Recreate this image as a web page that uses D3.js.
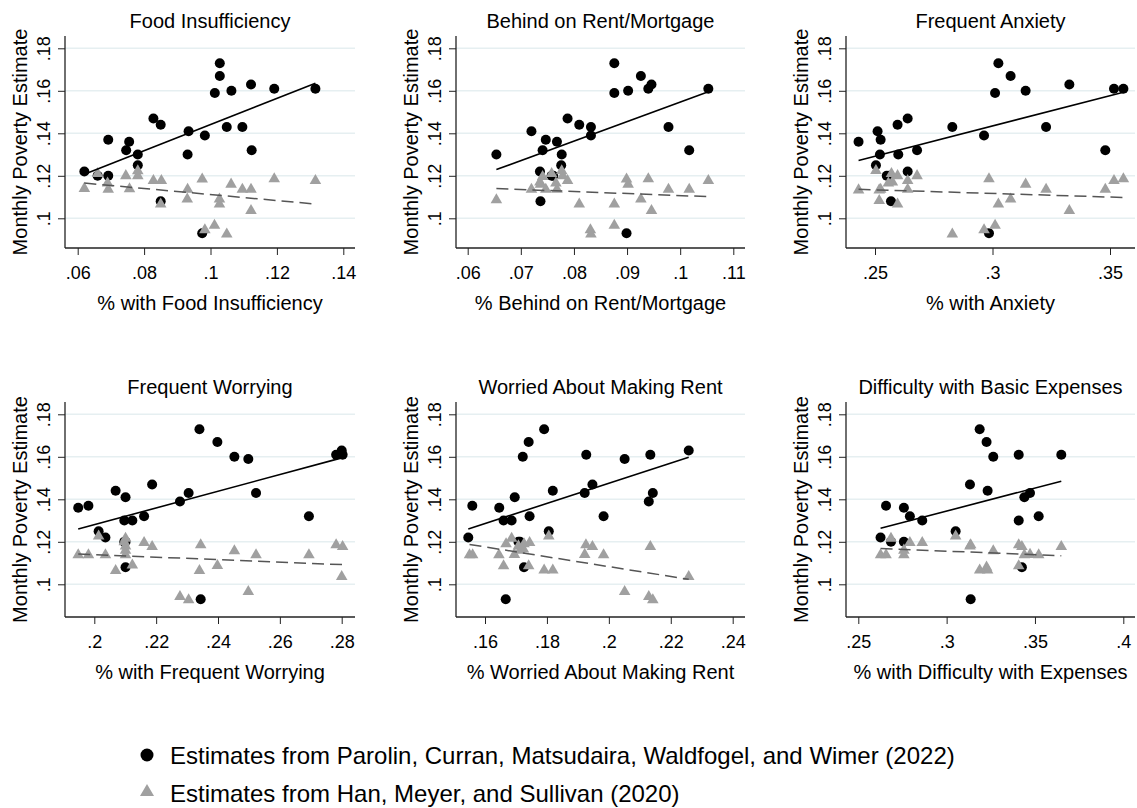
<!DOCTYPE html>
<html><head><meta charset="utf-8">
<script src="https://cdn.jsdelivr.net/npm/d3@7"></script>
<style>
html,body{margin:0;padding:0;background:#fff;}
svg text{font-family:"Liberation Sans",Arial,sans-serif;fill:#000;}
</style></head>
<body>
<svg id="chart" width="1137" height="808"></svg>
<script>
// ---------- DATA ----------
const yTicks = [0.10, 0.12, 0.14, 0.16, 0.18];
const titles = ["Food Insufficiency","Behind on Rent/Mortgage","Frequent Anxiety","Frequent Worrying","Worried About Making Rent","Difficulty with Basic Expenses"];
const xLabels = ["% with Food Insufficiency","% Behind on Rent/Mortgage","% with Anxiety","% with Frequent Worrying","% Worried About Making Rent","% with Difficulty with Expenses"];
const xTicks = [[0.06,0.08,0.10,0.12,0.14],[0.06,0.07,0.08,0.09,0.10,0.11],[0.25,0.30,0.35],[0.20,0.22,0.24,0.26,0.28],[0.16,0.18,0.20,0.22,0.24],[0.25,0.30,0.35,0.40]];
const legendLabels = ["Estimates from Parolin, Curran, Matsudaira, Waldfogel, and Wimer (2022)","Estimates from Han, Meyer, and Sullivan (2020)"];

const foodParolin = [[.062,.122],[.066,.120],[.0692,.137],[.0692,.120],[.0746,.132],[.0755,.136],[.0781,.130],[.0781,.125],[.0828,.147],[.085,.144],[.085,.108],[.0931,.130],[.0934,.141],[.0983,.139],[.0975,.093],[.1013,.159],[.1028,.173],[.1028,.167],[.1049,.143],[.1063,.160],[.1096,.143],[.1122,.163],[.1124,.132],[.1192,.161],[.1316,.161]];
const foodHan = [[.062,.114],[.066,.121],[.069,.1165],[.0692,.1136],[.0745,.120],[.0756,.1138],[.0781,.1223],[.0781,.120],[.0828,.1177],[.0852,.1177],[.085,.1067],[.0931,.1136],[.093,.109],[.0975,.1184],[.0983,.0945],[.1012,.0966],[.1027,.109],[.1027,.1067],[.1049,.0925],[.1062,.116],[.1096,.1136],[.1122,.1136],[.1122,.1036],[.1192,.1185],[.1316,.1177]];

const rentParolin = [[.0654,.130],[.072,.141],[.0741,.132],[.0736,.122],[.0737,.108],[.0747,.137],[.0758,.120],[.0761,.120],[.0768,.136],[.0777,.130],[.0776,.125],[.0788,.147],[.081,.144],[.0832,.143],[.0832,.139],[.0876,.173],[.0876,.159],[.0902,.160],[.0899,.093],[.0926,.167],[.094,.161],[.0946,.163],[.0978,.143],[.1017,.132],[.1053,.161]];
const rentHan = [[.0654,.1086],[.072,.1136],[.0736,.117],[.0737,.116],[.0741,.1196],[.0747,.1136],[.0758,.121],[.0766,.1165],[.0768,.1136],[.0777,.1223],[.0779,.120],[.0788,.1177],[.081,.1067],[.0831,.0945],[.0832,.0925],[.0876,.1067],[.0876,.0966],[.0899,.1184],[.0902,.116],[.0926,.109],[.094,.1185],[.0946,.1036],[.0978,.1136],[.1017,.1136],[.1053,.1177]];

const anxParolin = [[.243,.136],[.2511,.141],[.2504,.125],[.2524,.137],[.2521,.130],[.255,.120],[.2561,.120],[.2568,.108],[.2596,.144],[.2599,.130],[.2639,.147],[.2639,.122],[.2679,.132],[.2829,.143],[.2964,.139],[.2985,.093],[.3011,.159],[.3025,.173],[.3077,.167],[.3141,.160],[.3228,.143],[.3327,.163],[.348,.132],[.3517,.161],[.3557,.161]];
const anxHan = [[.243,.1133],[.2504,.1224],[.2518,.1133],[.2518,.1083],[.2524,.1136],[.2557,.1165],[.257,.121],[.2574,.117],[.2596,.120],[.2596,.1067],[.2639,.1177],[.2639,.1136],[.2679,.120],[.2829,.0925],[.2964,.0945],[.2985,.1185],[.3011,.0966],[.3025,.1067],[.3077,.109],[.3141,.116],[.3228,.1136],[.3327,.1036],[.348,.1136],[.3517,.1177],[.3557,.1185]];

const worryParolin = [[.1948,.136],[.1981,.137],[.2014,.125],[.2036,.122],[.2069,.144],[.2101,.141],[.2097,.130],[.2123,.130],[.2097,.120],[.2101,.120],[.2101,.108],[.2161,.132],[.2187,.147],[.2277,.139],[.2305,.143],[.234,.173],[.2344,.093],[.2398,.167],[.2453,.160],[.2498,.159],[.2523,.143],[.2694,.132],[.2782,.161],[.28,.163],[.2803,.161]];
const worryHan = [[.1948,.1138],[.1981,.1138],[.2014,.1227],[.2036,.1138],[.2069,.1064],[.2101,.1216],[.2101,.118],[.2101,.116],[.2101,.1138],[.2097,.120],[.2123,.109],[.2161,.1196],[.2187,.1177],[.2277,.0942],[.2305,.0926],[.2344,.1185],[.234,.1064],[.2398,.1088],[.2453,.1157],[.2498,.0965],[.2523,.1138],[.2694,.1138],[.2782,.1185],[.2803,.1177],[.28,.1036]];

const makeRentParolin = [[.1546,.122],[.1559,.137],[.1646,.136],[.166,.130],[.1686,.130],[.1696,.141],[.1667,.093],[.1708,.120],[.1713,.120],[.1722,.160],[.1726,.108],[.1741,.167],[.1744,.132],[.1791,.173],[.1806,.125],[.1819,.144],[.1922,.143],[.1927,.161],[.1947,.147],[.1983,.132],[.2051,.159],[.2129,.139],[.2134,.161],[.2142,.143],[.2258,.163]];
const makeRentHan = [[.155,.1138],[.156,.1138],[.1645,.1138],[.166,.1086],[.1668,.119],[.1686,.1216],[.1695,.114],[.1708,.118],[.1713,.116],[.1724,.1165],[.1726,.119],[.1744,.1196],[.1741,.1086],[.1791,.1067],[.1806,.1227],[.1819,.1067],[.1922,.114],[.1926,.1185],[.1947,.1177],[.1983,.1138],[.2051,.0965],[.2129,.0942],[.2134,.1177],[.2142,.0926],[.2258,.1036]];

const expParolin = [[.2626,.122],[.2657,.137],[.2685,.120],[.2758,.136],[.2758,.120],[.2792,.132],[.2862,.130],[.3051,.125],[.3132,.147],[.3136,.093],[.3187,.173],[.3226,.167],[.3232,.144],[.3264,.160],[.3408,.161],[.3408,.130],[.3426,.108],[.344,.141],[.3472,.143],[.3521,.132],[.3649,.161]];
const expHan = [[.2626,.1138],[.2657,.1138],[.2685,.1216],[.2758,.116],[.2758,.1138],[.2792,.1196],[.2862,.1196],[.3051,.1227],[.3132,.118],[.3136,.1185],[.3187,.1067],[.3226,.108],[.3232,.1067],[.3264,.1157],[.3408,.1185],[.3408,.1086],[.3426,.1177],[.344,.1138],[.3472,.114],[.3521,.1138],[.3649,.1177]];

const parolinSets = [foodParolin, rentParolin, anxParolin, worryParolin, makeRentParolin, expParolin];
const hanSets = [foodHan, rentHan, anxHan, worryHan, makeRentHan, expHan];

// ---------- LAYOUT ----------
const colLeft = [65, 456, 846], colRight = [355, 745, 1135];
const xRanges = [[77.7,343.3],[467.7,733.3],[875,1110],[94.3,341.7],[485,732.7],[858.3,1123.3]];
const rowTop = [36, 402], rowBottom = [248, 617];
const yRanges = [[218.3,48.3],[584.3,414.3]];
const GRAY = "#a0a0a0";

const svg = d3.select("#chart");
const fmt = v => d3.format("")(+v.toFixed(2)).replace(/^0\./, ".");

function ols(pts){
  const mx = d3.mean(pts, d => d[0]), my = d3.mean(pts, d => d[1]);
  let sxy = 0, sxx = 0;
  pts.forEach(d => { sxy += (d[0]-mx)*(d[1]-my); sxx += (d[0]-mx)*(d[0]-mx); });
  const b = sxy/sxx, a = my - b*mx;
  const [x0, x1] = d3.extent(pts, d => d[0]);
  return [[x0, a + b*x0], [x1, a + b*x1]];
}

for (let i = 0; i < 6; i++){
  const col = i % 3, row = Math.floor(i / 3);
  const L = colLeft[col], R = colRight[col], T = rowTop[row], B = rowBottom[row];
  const xt = xTicks[i];
  const x = d3.scaleLinear().domain([xt[0], xt[xt.length-1]]).range(xRanges[i]);
  const y = d3.scaleLinear().domain([yTicks[0], yTicks[yTicks.length-1]]).range(yRanges[row]);
  const g = svg.append("g");

  // gridlines
  g.selectAll("line.grid").data(yTicks).join("line")
    .attr("x1", L).attr("x2", R).attr("y1", d => y(d)).attr("y2", d => y(d))
    .attr("stroke", "#e6eff1").attr("stroke-width", 1.5);

  // axes
  const yAxis = d3.axisLeft(y).tickValues(yTicks).tickSize(7).tickPadding(4).tickFormat(fmt);
  const ya = g.append("g").attr("transform", `translate(${L},0)`).call(yAxis);
  ya.select(".domain").remove();
  ya.selectAll(".tick line").attr("stroke", "#222");
  ya.selectAll(".tick text").attr("font-size", 18).attr("text-anchor", "middle")
    .attr("x", null).attr("dy", null)
    .attr("transform", "translate(-15,0) rotate(-90)");
  g.append("line").attr("x1", L).attr("x2", L).attr("y1", T).attr("y2", B).attr("stroke", "#222").attr("stroke-width", 1.3);

  const xAxis = d3.axisBottom(x).tickValues(xt).tickSize(7).tickPadding(11).tickFormat(fmt);
  const xa = g.append("g").attr("transform", `translate(0,${B})`).call(xAxis);
  xa.select(".domain").remove();
  xa.selectAll(".tick line").attr("stroke", "#222");
  xa.selectAll(".tick text").attr("font-size", 18);
  g.append("line").attr("x1", L).attr("x2", R).attr("y1", B).attr("y2", B).attr("stroke", "#222").attr("stroke-width", 1.3);

  // titles
  g.append("text").attr("x", (L+R)/2).attr("y", T - 8).attr("text-anchor", "middle").attr("font-size", 20).text(titles[i]);
  g.append("text").attr("x", (L+R)/2).attr("y", B + 62).attr("text-anchor", "middle").attr("font-size", 20).text(xLabels[i]);
  g.append("text").attr("transform", `translate(${L-38},${(T+B)/2}) rotate(-90)`).attr("text-anchor", "middle").attr("font-size", 20).text("Monthly Poverty Estimate");

  // points
  g.selectAll("circle.p").data(parolinSets[i]).join("circle")
    .attr("cx", d => x(d[0])).attr("cy", d => y(d[1])).attr("r", 5).attr("fill", "#000");
  const tri = d3.symbol().type(d3.symbolTriangle).size(58);
  g.selectAll("path.h").data(hanSets[i]).join("path")
    .attr("d", tri).attr("transform", d => `translate(${x(d[0])},${y(d[1])})`).attr("fill", GRAY);

  // fit lines
  const line = d3.line().x(d => x(d[0])).y(d => y(d[1]));
  g.append("path").attr("d", line(ols(hanSets[i]))).attr("fill", "none").attr("stroke", "#555").attr("stroke-width", 1.5).attr("stroke-dasharray", "12,6");
  g.append("path").attr("d", line(ols(parolinSets[i]))).attr("fill", "none").attr("stroke", "#000").attr("stroke-width", 1.6);
}

// legend
const lg = svg.append("g");
lg.append("circle").attr("cx", 147).attr("cy", 755).attr("r", 6.5).attr("fill", "#000");
lg.append("path").attr("d", d3.symbol().type(d3.symbolTriangle).size(85)).attr("transform", "translate(147,792)").attr("fill", GRAY);
lg.selectAll("text.l").data(legendLabels).join("text")
  .attr("x", 170).attr("y", (d, k) => 764 + k*38).attr("font-size", 24).text(d => d);
</script>
</body></html>
